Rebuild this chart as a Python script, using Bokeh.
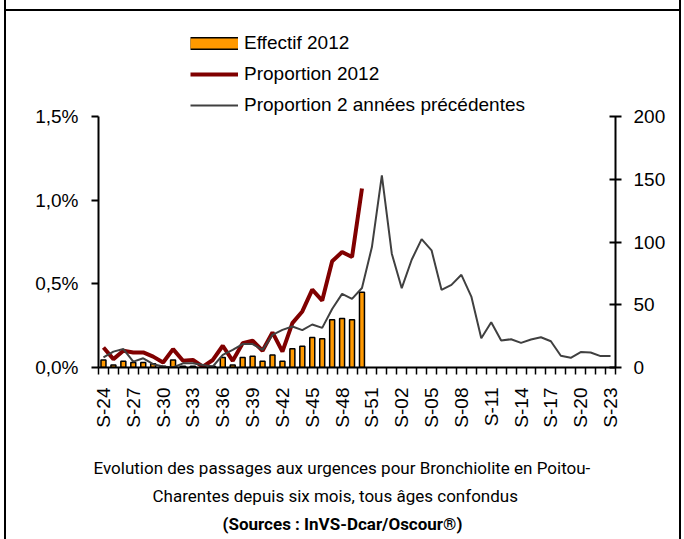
import math
from bokeh.plotting import figure
from bokeh.models import (Range1d, LinearAxis, FixedTicker, CustomJSTickFormatter,
                          Legend, LegendItem, Title, ColumnDataSource)
from bokeh.embed import file_html
from bokeh.resources import INLINE

weeks = ["S-24", "S-25", "S-26", "S-27", "S-28", "S-29", "S-30", "S-31", "S-32", "S-33",
         "S-34", "S-35", "S-36", "S-37", "S-38", "S-39", "S-40", "S-41", "S-42", "S-43",
         "S-44", "S-45", "S-46", "S-47", "S-48", "S-49", "S-50", "S-51", "S-52", "S-01",
         "S-02", "S-03", "S-04", "S-05", "S-06", "S-07", "S-08", "S-09", "S-10", "S-11",
         "S-12", "S-13", "S-14", "S-15", "S-16", "S-17", "S-18", "S-19", "S-20", "S-21",
         "S-22", "S-23"]

# Effectif 2012 (right axis, counts)
effectif_2012 = [6, 2, 5, 4, 4, 3, 1, 6, 1, 1, 0, 1, 8, 2, 8, 9, 5, 10, 5, 15,
                 17, 24, 23, 38, 39, 38, 60]

# Proportion 2012 (left axis, %)
prop_2012 = [0.12, 0.05, 0.10, 0.09, 0.09, 0.065, 0.03, 0.11, 0.04, 0.045,
             0.005, 0.045, 0.13, 0.04, 0.145, 0.16, 0.10, 0.21, 0.095, 0.265,
             0.335, 0.465, 0.40, 0.635, 0.69, 0.66, 1.07]

# Proportion 2 années précédentes (left axis, %)
prop_prev = [0.06, 0.095, 0.11, 0.035, 0.055, 0.02, 0.006, 0.0, 0.025, 0.026,
             0.015, 0.006, 0.075, 0.105, 0.14, 0.14, 0.105, 0.195, 0.225, 0.245,
             0.223, 0.257, 0.237, 0.35, 0.44, 0.41, 0.475, 0.72, 1.148, 0.68,
             0.474, 0.644, 0.767, 0.70, 0.464, 0.494, 0.554, 0.424, 0.175, 0.27,
             0.161, 0.169, 0.147, 0.167, 0.181, 0.157, 0.07, 0.058, 0.092, 0.09,
             0.068, 0.068]

left_ticks = [0, 0.5, 1.0, 1.5]
right_ticks = [0, 50, 100, 150, 200]
label_step = 3

caption_1 = "Evolution des passages aux urgences pour Bronchiolite en Poitou-"
caption_2 = "Charentes depuis six mois, tous âges confondus"
caption_3 = "(Sources : InVS-Dcar/Oscour®)"

W, H = 684, 539
FONT = "Liberation Sans"
CAPTION_FONT = "Roboto"

# layout (pixels)
FRAME_TOP, AXIS_TOP, AXIS_BOTTOM = 20, 116, 367
stretch = (AXIS_BOTTOM - FRAME_TOP) / (AXIS_BOTTOM - AXIS_TOP)

n = len(weeks)
xs_all = list(range(n))
xs_2012 = list(range(len(effectif_2012)))

p = figure(width=W, height=H, output_backend="svg", toolbar_location=None,
           x_range=Range1d(-0.5, n - 0.5),
           y_range=Range1d(0, left_ticks[-1] * stretch),
           min_border_left=98, min_border_right=W - 615, min_border_top=FRAME_TOP,
           min_border_bottom=H - AXIS_BOTTOM)
p.extra_y_ranges = {"count": Range1d(0, right_ticks[-1] * stretch)}
p.xgrid.visible = False
p.ygrid.visible = False
p.outline_line_color = None
p.background_fill_color = "white"
p.border_fill_alpha = 0
# thin page frame (left, right, top rule) drawn behind the transparent border area
p.styles = {
    "background": ("linear-gradient(#000,#000) 4px 0/2px 100% no-repeat, "
                   "linear-gradient(#000,#000) 679px 0/2px 100% no-repeat, "
                   "linear-gradient(#000,#000) 4px 9px/677px 2px no-repeat, #fff")
}

bars = p.vbar(x=xs_2012, top=effectif_2012, width=0.5, y_range_name="count",
              fill_color="#FF9900", line_color="black", line_width=1.5)
red = p.line(x=xs_2012, y=prop_2012, line_color="#800000", line_width=4)
gray = p.line(x=xs_all, y=prop_prev, line_color="#404040", line_width=2)

# legend symbol for bars (renderers hold no drawable point)
nan_src = ColumnDataSource(dict(x=[float("nan")], y=[float("nan")]))
leg_b = p.line(x="x", y="y", source=nan_src, line_color="black", line_width=13)
leg_o = p.line(x="x", y="y", source=nan_src, line_color="#FF9900", line_width=10)

# x axis
xa = p.xaxis[0]
xa.ticker = FixedTicker(ticks=xs_all[::label_step],
                        minor_ticks=[i - 0.5 for i in range(n + 1)])
xa.major_label_overrides = {i: weeks[i] for i in xs_all[::label_step]}
xa.major_label_orientation = math.pi / 2
xa.major_tick_out = 0
xa.major_tick_in = 0
xa.minor_tick_out = 7
xa.minor_tick_in = 0
xa.minor_tick_line_width = 1.5
xa.minor_tick_line_color = "black"
xa.axis_line_width = 2
xa.axis_line_color = "black"
xa.major_label_standoff = 13
xa.major_label_text_font = FONT
xa.major_label_text_font_size = "19px"
xa.major_label_text_color = "black"

# left axis
ya = p.yaxis[0]
ya.ticker = FixedTicker(ticks=left_ticks)
ya.bounds = (left_ticks[0], left_ticks[-1])
ya.formatter = CustomJSTickFormatter(code="return tick.toFixed(1).replace('.', ',') + '%';")
ya.major_tick_out = 7
ya.major_tick_in = 0
ya.minor_tick_out = 0
ya.minor_tick_in = 0
ya.major_tick_line_width = 2
ya.axis_line_width = 2
ya.axis_line_color = "black"
ya.major_label_standoff = 13
ya.major_label_text_font = FONT
ya.major_label_text_font_size = "19px"
ya.major_label_text_color = "black"

# right axis
ra = LinearAxis(y_range_name="count", ticker=FixedTicker(ticks=right_ticks),
                bounds=(right_ticks[0], right_ticks[-1]))
ra.major_tick_out = 6
ra.major_tick_in = 6
ra.minor_tick_out = 0
ra.minor_tick_in = 0
ra.major_tick_line_width = 2
ra.axis_line_width = 2
ra.axis_line_color = "black"
ra.major_label_standoff = 12
ra.major_label_text_font = FONT
ra.major_label_text_font_size = "19px"
ra.major_label_text_color = "black"
p.add_layout(ra, "right")

legend = Legend(items=[
    LegendItem(label="Effectif 2012", renderers=[leg_b, leg_o]),
    LegendItem(label="Proportion 2012", renderers=[red]),
    LegendItem(label="Proportion 2 années précédentes", renderers=[gray]),
], location=(92, AXIS_BOTTOM - AXIS_TOP), orientation="vertical")
legend.border_line_color = None
legend.background_fill_alpha = 0
legend.padding = 0
legend.margin = 0
legend.spacing = 9
legend.glyph_width = 48
legend.glyph_height = 22
legend.label_height = 22
legend.label_standoff = 6
legend.label_text_font = FONT
legend.label_text_font_size = "19px"
legend.label_text_color = "black"
p.add_layout(legend, "center")

# caption below the chart
spacer = Title(text=" ", text_font_size="19px", standoff=0)
t1 = Title(text=caption_1, align="left", offset=-5, standoff=6,
           vertical_align="middle",
           text_font=CAPTION_FONT, text_font_size="17px", text_font_style="normal",
           text_color="black")
t2 = Title(text=caption_2, align="left", offset=54, standoff=6,
           vertical_align="middle",
           text_font=CAPTION_FONT, text_font_size="17px", text_font_style="normal",
           text_color="black")
t3 = Title(text=caption_3, align="left", offset=124, standoff=6,
           vertical_align="middle",
           text_font=CAPTION_FONT, text_font_size="17px", text_font_style="bold",
           text_color="black")
p.add_layout(spacer, "below")
p.add_layout(t1, "below")
p.add_layout(t2, "below")
p.add_layout(t3, "below")

open("out.html", "w").write(file_html(p, INLINE))
